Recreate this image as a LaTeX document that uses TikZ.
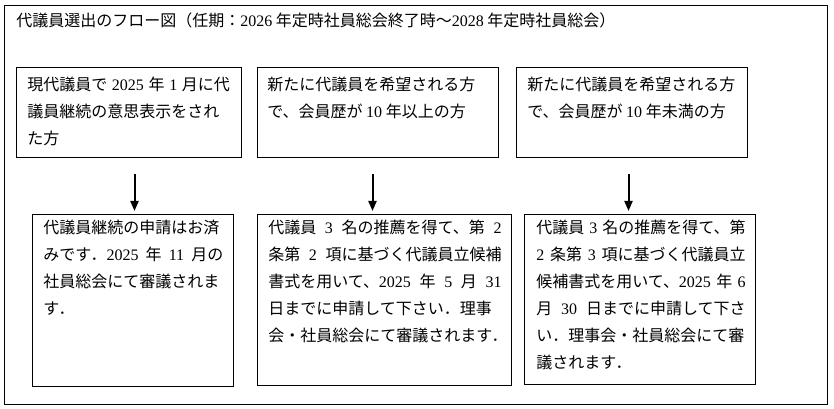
\documentclass[tikz,border=0pt]{standalone}
\usepackage{fontspec}
\setmainfont{Noto Sans CJK JP}
\newfontfamily\lat{Liberation Serif}
\usetikzlibrary{arrows.meta,calc}
\XeTeXinterchartokenstate=1
\XeTeXinterchartoks 1 1 = {\hskip 0pt plus 1pt\relax}
\XeTeXinterchartoks 1 3 = {\hskip 0pt plus 1pt\relax}
\XeTeXinterchartoks 3 1 = {\hskip 0pt plus 1pt\relax}
\XeTeXinterchartoks 3 3 = {\hskip 0pt plus 1pt\relax}
\XeTeXinterchartoks 1 2 = {\hskip 0pt plus 1pt\relax}
\XeTeXinterchartoks 2 1 = {\hskip 0pt plus 1pt\relax}
\newcommand\nm[1]{{\lat #1}}
\newcommand\jl[2]{\makebox[#1][s]{#2}}
\begin{document}
\begin{tikzpicture}[x=0.75pt,y=-0.75pt,
  frame/.style={draw, line width=0.75pt, rectangle, anchor=north west, inner sep=0pt},
  box/.style={draw, line width=0.75pt, rectangle, anchor=north west, inner sep=0pt},
  txt/.style={anchor=base west, inner sep=0pt, font=\fontsize{12}{20.2}\selectfont},
  arr/.style={line width=1.5pt, -{Triangle[length=7.5pt,width=6pt]}}]
\useasboundingbox (0,0) rectangle (834,409);
\node[frame, minimum width=617.25pt, minimum height=299.25pt] (fr) at (4,5) {};
\node[txt] (title) at ($(fr.north west)+(12,22)$) {代議員選出のフロー図（任期：\nm{2026} 年定時社員総会終了時～\nm{2028} 年定時社員総会）};
% top boxes
\node[box, minimum width=168.75pt, minimum height=67.5pt] (b1) at (16,67) {};
\node[box, minimum width=180.75pt, minimum height=67.5pt] (b2) at (257,67) {};
\node[box, minimum width=173.25pt, minimum height=67.5pt] (b3) at (516,67) {};
% bottom boxes
\node[box, minimum width=150.75pt, minimum height=129pt] (b4) at (32,214) {};
\node[box, minimum width=190.5pt, minimum height=128.25pt] (b5) at (257,214) {};
\node[box, minimum width=173.25pt, minimum height=127.5pt] (b6) at (524,214) {};
% texts
\node[txt] (t1) at ($(b1.north west)+(11,24)$) {\begin{tabular}[t]{@{}l@{}}
\jl{152pt}{現代議員で \nm{2025} 年 \nm{1} 月に代}\\
\jl{152pt}{議員継続の意思表示をされ}\\
た方\end{tabular}};
\node[txt] (t2) at ($(b2.north west)+(10,24)$) {\begin{tabular}[t]{@{}l@{}}
\jl{163pt}{新たに代議員を希望される方}\\
で、会員歴が \nm{10} 年以上の方\end{tabular}};
\node[txt] (t3) at ($(b3.north west)+(11,24)$) {\begin{tabular}[t]{@{}l@{}}
\jl{157.5pt}{新たに代議員を希望される方}\\
で、会員歴が \nm{10} 年未満の方\end{tabular}};
\node[txt] (t4) at ($(b4.north west)+(11,20)$) {\begin{tabular}[t]{@{}l@{}}
\jl{135pt}{代議員継続の申請はお済}\\
\jl{135pt}{みです．\nm{2025} 年 \nm{11} 月の}\\
\jl{135pt}{社員総会にて審議されま}\\
す．\end{tabular}};
\node[txt] (t5) at ($(b5.north west)+(11,20)$) {\begin{tabular}[t]{@{}l@{}}
\jl{175pt}{代議員 \nm{3} 名の推薦を得て、第 \nm{2}}\\
\jl{175pt}{条第 \nm{2} 項に基づく代議員立候補}\\
\jl{175pt}{書式を用いて、\nm{2025} 年 \nm{5} 月 \nm{31}}\\
\jl{175pt}{日までに申請して下さい．理事}\\
会・社員総会にて審議されます．\end{tabular}};
\node[txt] (t6) at ($(b6.north west)+(12,20)$) {\begin{tabular}[t]{@{}l@{}}
\jl{157pt}{代議員 \nm{3} 名の推薦を得て、第}\\
\jl{157pt}{\nm{2} 条第 \nm{3} 項に基づく代議員立}\\
\jl{157pt}{候補書式を用いて、\nm{2025} 年 \nm{6}}\\
\jl{157pt}{月 \nm{30} 日までに申請して下さ}\\
\jl{157pt}{い．理事会・社員総会にて審}\\
議されます．\end{tabular}};
% arrows
\draw[arr] ($(b1.south)+(5.5,16)$) -- ($(b4.north)+(1.5,-3)$);
\draw[arr] ($(b2.south)+(-5.5,16)$) -- ($(b5.north)+(-12,-3)$);
\draw[arr] ($(b3.south)+(-3.5,16)$) -- ($(b6.north)+(-11.5,-3)$);
\end{tikzpicture}
\end{document}
